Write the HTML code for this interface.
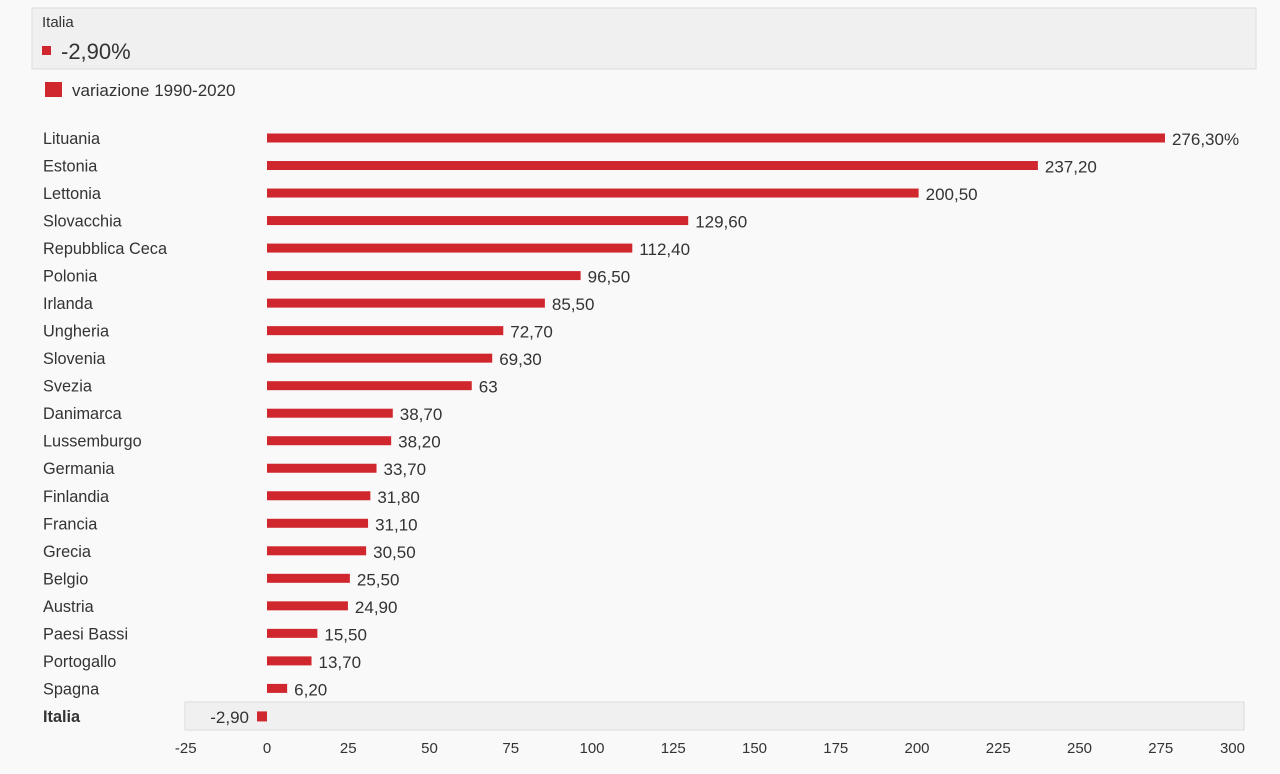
<!DOCTYPE html>
<html><head><meta charset="utf-8"><style>
body{margin:0;background:#f9f9f9;font-family:"Liberation Sans",sans-serif;}
svg text{font-family:"Liberation Sans",sans-serif;fill:#333;}
</style></head><body>
<svg width="1280" height="769">
<rect x="0" y="0" width="1280" height="769" fill="#f9f9f9"/>
<g>
<rect x="32" y="8" width="1224" height="61" fill="#f0f0f0" stroke="#dcdcdc"/>
<text x="42" y="27" font-size="15">Italia</text>
<rect x="42" y="46" width="9" height="9" fill="#d0262d"/>
<text x="61" y="59" font-size="22">-2,90%</text>
</g>
<g>
<rect x="45" y="82" width="17" height="15" fill="#d0262d"/>
<text x="72" y="96" font-size="17">variazione 1990-2020</text>
</g>
<rect x="185" y="702" width="1059" height="28" fill="#f0f0f0" stroke="#dcdcdc"/>
<g id="plot"></g>
</svg>
<script>
const categories=["Lituania","Estonia","Lettonia","Slovacchia","Repubblica Ceca","Polonia","Irlanda","Ungheria","Slovenia","Svezia","Danimarca","Lussemburgo","Germania","Finlandia","Francia","Grecia","Belgio","Austria","Paesi Bassi","Portogallo","Spagna","Italia"];
const values=[276.3,237.2,200.5,129.6,112.4,96.5,85.5,72.7,69.3,63,38.7,38.2,33.7,31.8,31.1,30.5,25.5,24.9,15.5,13.7,6.2,-2.9];
const labels=["276,30%","237,20","200,50","129,60","112,40","96,50","85,50","72,70","69,30","63","38,70","38,20","33,70","31,80","31,10","30,50","25,50","24,90","15,50","13,70","6,20","-2,90"];
const ticks=[-25,0,25,50,75,100,125,150,175,200,225,250,275,300];
const NS="http://www.w3.org/2000/svg";
const g=document.getElementById('plot');
const x=v=>267+v*3.25;
const y=i=>138+i*27.52;
function mk(t,a){const e=document.createElementNS(NS,t);for(const k in a)e.setAttribute(k,a[k]);g.appendChild(e);return e;}
categories.forEach((c,i)=>{
 const t=mk('text',{x:43,y:y(i)+6,'font-size':16.3,'font-weight':c==="Italia"?'bold':'normal'});t.textContent=c;
 
 
 const v=values[i];
 let x0=Math.min(x(0),x(v)),w=Math.abs(x(v)-x(0));
 if(v<0){w=Math.max(w,10);x0=x(0)-w;}
 const b=mk('rect',{x:x0,y:y(i)-4.5,width:w,height:v<0?10:9,fill:'#d0262d'});
 
 
 const l=mk('text',{x:v<0?x0-8:x0+w+7,y:y(i)+7,'font-size':17,'text-anchor':v<0?'end':'start'});l.textContent=labels[i];
 
 
});
ticks.forEach(tv=>{
 const t=mk('text',{x:tv===300?1245:x(tv),y:753,'font-size':15,'text-anchor':tv===300?'end':'middle'});t.textContent=tv;
 
 
});
</script>
</body></html>
